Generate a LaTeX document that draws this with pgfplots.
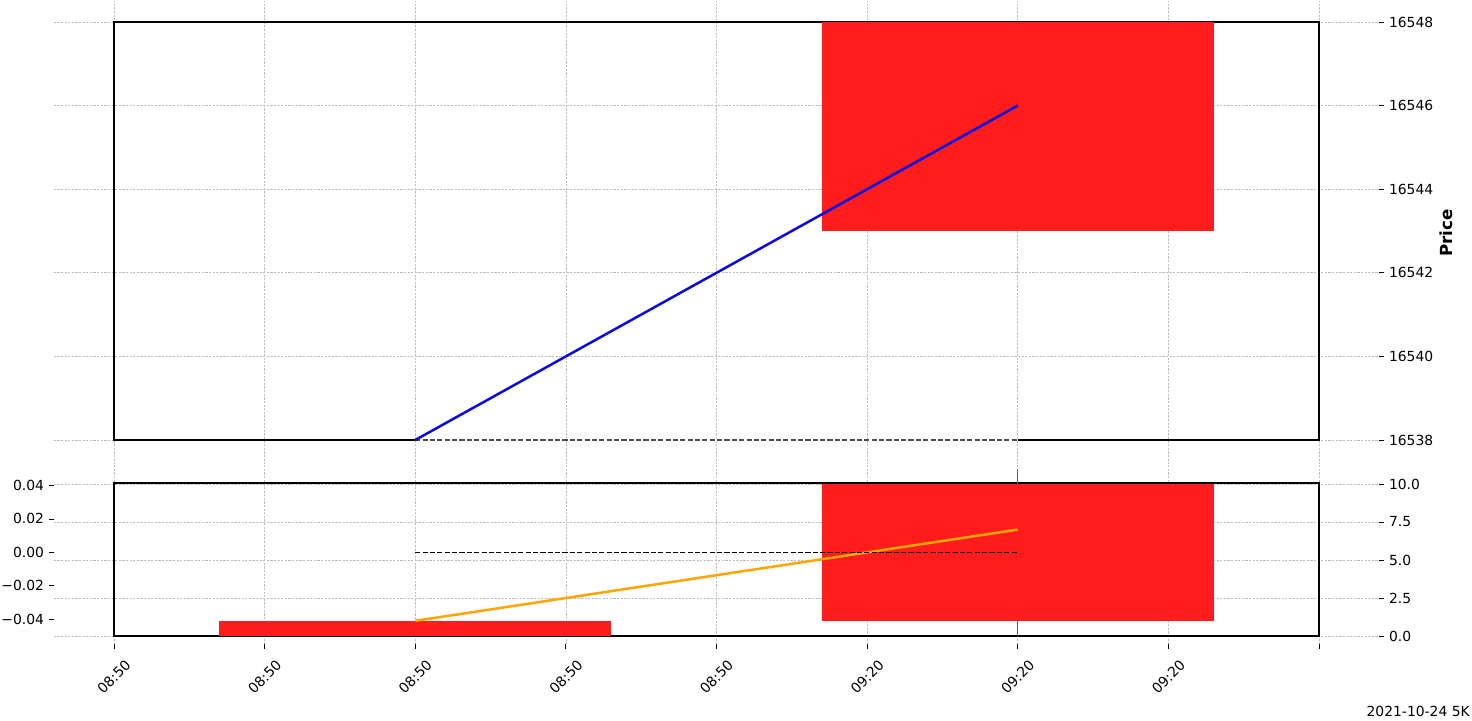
\documentclass[border=0pt]{standalone}
\usepackage{fontspec}
\setmainfont{DejaVu Sans}
\usepackage{pgfplots}
\pgfplotsset{compat=1.18}
\definecolor{candlered}{RGB}{255,28,28}
\definecolor{gridgray}{RGB}{190,190,190}
\definecolor{linorange}{RGB}{255,165,0}
\definecolor{linblue}{RGB}{10,10,225}

\pgfplotsset{
  common/.style={
    scale only axis,
    width=954.36pt,
    xmin=-0.4, xmax=8.4,
    axis line style={draw=none},
    tick align=outside,
    major tick length=3.5pt,
    tick style={black, line width=0.6pt},
    ticklabel style={font=\fontsize{10}{12}\selectfont},
    /pgf/number format/assume math mode=true,
    scaled y ticks=false,
    grid style={gridgray, line width=0.5pt, dash pattern=on 1.6pt off 1pt},
  }
}

\begin{document}
\begin{tikzpicture}
\useasboundingbox (0pt,-519.12pt) rectangle (1059.84pt,0pt);

% ---------- top price panel ----------
\begin{axis}[common,
  at={(38.7pt,-331.85pt)}, anchor=south west, height=331.06pt,
  ymin=16537.5, ymax=16548.5,
  xtick={0,1,2,3,4,5,6,7,8}, xmajorticks=false,
  xmajorgrids, ymajorgrids,
  ytick={16538,16540,16542,16544,16546,16548},
  yticklabels={16538,16540,16542,16544,16546,16548},
  ytick pos=right, yticklabel pos=right,
  ylabel={Price},
  ylabel style={font=\fontsize{12}{14}\selectfont\bfseries,
    at={(axis description cs:1.0506,0.495)}, anchor=center},
]
\addplot[black, line width=1.44pt] coordinates {(0,16538) (8,16538) (8,16548) (0,16548)} -- cycle;
\addplot[white, line width=1.6pt] coordinates {(2,16538) (6,16538)};
\addplot[black!70, line width=1pt, dash pattern=on 3.7pt off 1.6pt] coordinates {(2,16538) (6,16538)};
\addplot[draw=none, fill=candlered] coordinates {(4.7,16543) (7.3,16543) (7.3,16548) (4.7,16548)} -- cycle;
\addplot[linblue, line width=1.8pt] coordinates {(2,16538) (6,16546)};
\end{axis}

% ---------- lower panel, right axis ----------
\begin{axis}[common,
  at={(38.7pt,-463.97pt)}, anchor=south west, height=132.5pt,
  ymin=-0.55, ymax=11.55,
  xtick={0,1,2,3,4,5,6,7,8},
  xticklabels={08:50,08:50,08:50,08:50,08:50,09:20,09:20,09:20,{}},
  xtick pos=bottom,
  xticklabel style={rotate=45, anchor=center, inner sep=0pt, xshift=-14.1pt, yshift=-14.1pt},
  ytick={0,2.5,5,7.5,10},
  yticklabels={0.0,2.5,5.0,7.5,10.0},
  ytick pos=right, yticklabel pos=right,
  xmajorgrids, ymajorgrids,
]
\addplot[black, line width=1.44pt] coordinates {(0,0) (8,0) (8,10.07) (0,10.07)} -- cycle;
\addplot[draw=none, fill=candlered] coordinates {(0.7,0) (3.3,0) (3.3,1) (0.7,1)} -- cycle;
\addplot[candlered, line width=1pt] coordinates {(6,0) (6,11)};
\addplot[draw=none, fill=candlered] coordinates {(4.7,1) (7.3,1) (7.3,10) (4.7,10)} -- cycle;
\addplot[linorange, line width=1.8pt] coordinates {(2,1) (6,7)};
\end{axis}

% ---------- lower panel, left axis ----------
\begin{axis}[common,
  at={(38.7pt,-463.97pt)}, anchor=south west, height=132.5pt,
  ymin=-0.055, ymax=0.055,
  xmajorticks=false,
  ytick={-0.04,-0.02,0,0.02,0.04},
  yticklabels={−0.04,−0.02,0.00,0.02,0.04},
  ytick pos=left, yticklabel pos=left,
]
\addplot[black, line width=1pt, dash pattern=on 3.7pt off 1.6pt] coordinates {(2,0) (6,0)};
\end{axis}

\node[anchor=base east, font=\fontsize{10}{12}\selectfont, inner sep=0pt] at (1058.4pt,-516.2pt) {2021-10-24 5K};
\end{tikzpicture}
\end{document}
